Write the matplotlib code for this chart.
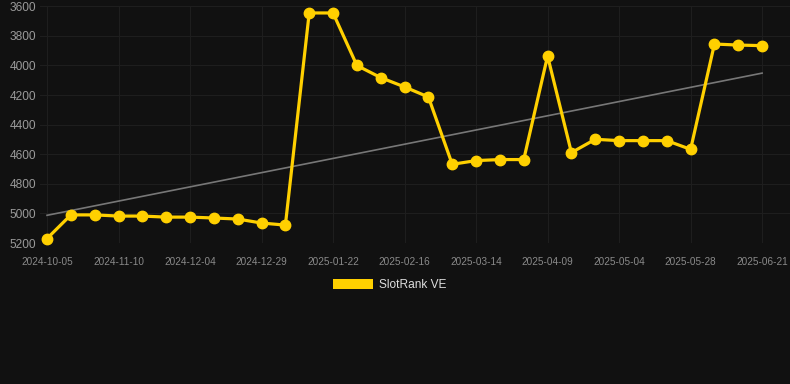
import numpy as np
import matplotlib
matplotlib.use('Agg')
import matplotlib.pyplot as plt
from matplotlib.patches import Patch

plt.rcParams['font.family'] = ['Liberation Sans', 'DejaVu Sans']

# snapshot dates (only every third one is labelled on the axis)
dates = ['2024-10-05', '2024-10-17', '2024-10-29', '2024-11-10', '2024-11-18', '2024-11-26',
         '2024-12-04', '2024-12-12', '2024-12-20', '2024-12-29', '2025-01-06', '2025-01-14',
         '2025-01-22', '2025-01-30', '2025-02-07', '2025-02-16', '2025-02-24', '2025-03-05',
         '2025-03-14', '2025-03-22', '2025-03-31', '2025-04-09', '2025-04-17', '2025-04-25',
         '2025-05-04', '2025-05-12', '2025-05-20', '2025-05-28', '2025-06-05', '2025-06-13',
         '2025-06-21']
rank = [5170, 5010, 5010, 5018, 5018, 5025, 5025, 5031, 5038, 5065, 5079,
        3645, 3645, 4000, 4082, 4145, 4213, 4668, 4643, 4636, 4636,
        3936, 4589, 4499, 4508, 4508, 4508, 4567, 3855, 3862, 3866]
y_ticks = [3600, 3800, 4000, 4200, 4400, 4600, 4800, 5000, 5200]
series_name = 'SlotRank VE'

bg = '#111111'
gold = '#FFD000'

W, H = 790, 384
fig = plt.figure(figsize=(W / 100, H / 100), dpi=100, facecolor=bg)
left, right, top, bottom = 40, 790, 6.3, 243
ax = fig.add_axes([left / W, 1 - bottom / H, (right - left) / W, (bottom - top) / H])
ax.set_facecolor(bg)

x = np.arange(len(rank))
ax.plot(x, rank, color=gold, lw=2.3, marker='o', markersize=7.5,
        markerfacecolor=gold, markeredgecolor=gold, clip_on=False, zorder=3)

# linear trend
k, b = np.polyfit(x, rank, 1)
ax.plot(x, k * x + b, color='#777777', lw=1.2, zorder=2)

ax.set_xlim(-0.294, 31.17)
ax.set_ylim(5200, 3600)
ax.set_yticks(y_ticks)
ax.set_xticks(x[::3])
ax.set_xticklabels(dates[::3])
ax.tick_params(axis='y', length=0, labelsize=8.6, labelcolor='#9a9a9a', pad=3)
ax.tick_params(axis='x', length=0, labelsize=7.2, labelcolor='#8a8a8a', pad=10)
ax.grid(True, color='#1e1e1e', lw=0.8)
ax.set_axisbelow(True)
for s in ax.spines.values():
    s.set_visible(False)

fig.legend(handles=[Patch(facecolor=gold, edgecolor='none', label=series_name)],
           loc='center', bbox_to_anchor=(390 / W, 1 - 285 / H), frameon=False,
           fontsize=8.6, labelcolor='#dddddd', handlelength=3.33, handleheight=1.0,
           handletextpad=0.5)

fig.savefig('out.png', dpi=100, facecolor=bg)
